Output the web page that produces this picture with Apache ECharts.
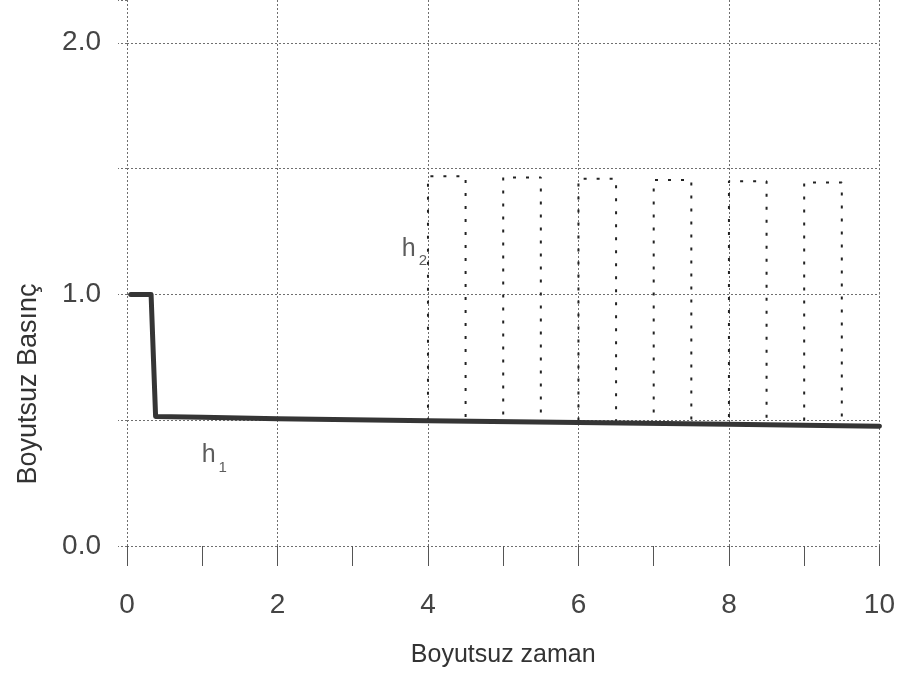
<!DOCTYPE html>
<html>
<head>
<meta charset="utf-8">
<script src="https://cdn.jsdelivr.net/npm/echarts@6/dist/echarts.min.js"></script>
<style>
  html, body { margin: 0; padding: 0; background: #fff; }
  #chart { width: 898px; height: 682px; }
</style>
</head>
<body>
<div id="chart"></div>
<script>
// Dimensionless time axis (x) and dimensionless pressure (y)
const xTickLabels = ['0', '2', '4', '6', '8', '10'];
const yTickLabels = ['0.0', '1.0', '2.0'];

// h1: pressure drops from 1.0 to about 0.5, then declines slowly
const h1X = [0.05, 0.32, 0.38, 1, 2, 4, 6, 8, 10];
const h1Y = [1.0, 1.0, 0.515, 0.512, 0.506, 0.498, 0.491, 0.484, 0.476];

// h2: pulsed pressure, switching on at each integer time from 4 to 9
const h2X = [4, 4, 4.5, 4.5, 5, 5, 5.5, 5.5, 6, 6, 6.5, 6.5,
             7, 7, 7.5, 7.5, 8, 8, 8.5, 8.5, 9, 9, 9.5, 9.5];
const h2Y = [0.498, 1.47, 1.47, 0.496, 0.494, 1.465, 1.465, 0.493, 0.491, 1.46, 1.46, 0.489,
             0.488, 1.455, 1.455, 0.486, 0.484, 1.45, 1.45, 0.482, 0.481, 1.445, 1.445, 0.478];

// Curve name labels (placed in data coordinates)
const curveLabels = [
  { name: 'h', sub: '2', x: 3.82, y: 1.18 },
  { name: 'h', sub: '1', x: 1.16, y: 0.36 }
];

const zip = (xs, ys) => xs.map((x, i) => [x, ys[i]]);
const gridColor = '#6f6f6f';
const font = 'Liberation Sans, Arial, sans-serif';

const chart = echarts.init(document.getElementById('chart'), null, { renderer: 'canvas' });
chart.setOption({
  animation: false,
  backgroundColor: '#fff',
  grid: { left: 127, right: 18, top: 0, bottom: 136 },
  xAxis: {
    type: 'value',
    min: 0, max: 10, interval: 1,
    name: 'Boyutsuz zaman',
    nameLocation: 'middle',
    nameGap: 97,
    nameTextStyle: { fontFamily: font, fontSize: 25, color: '#333' },
    axisLine: { show: false },
    axisTick: { show: true, length: 20, lineStyle: { color: '#555', width: 1 } },
    axisLabel: {
      margin: 45,
      fontFamily: font, fontSize: 28, color: '#444',
      formatter: v => (xTickLabels.includes(String(v)) ? String(v) : '')
    },
    splitLine: {
      show: true,
      lineStyle: { color: [gridColor, 'rgba(0,0,0,0)'], type: [2, 2], width: 1 }
    }
  },
  yAxis: {
    type: 'value',
    min: 0, max: 2.17, interval: 0.5,
    name: 'Boyutsuz Basınç',
    nameLocation: 'middle',
    nameRotate: 90,
    nameGap: 85,
    nameTextStyle: { fontFamily: font, fontSize: 27, color: '#333', padding: [0, 222, 0, 0] },
    axisLine: { show: false },
    axisTick: { show: true, length: 9, lineStyle: { color: gridColor, type: [2, 2] } },
    axisLabel: {
      margin: 26,
      fontFamily: font, fontSize: 28, color: '#444',
      formatter: v => {
        const s = v.toFixed(1);
        return yTickLabels.includes(s) ? s : '';
      }
    },
    splitLine: {
      show: true,
      lineStyle: {
        color: [gridColor, gridColor, gridColor, gridColor, gridColor, 'rgba(0,0,0,0)'],
        type: [2, 2], width: 1
      }
    }
  },
  series: [
    {
      name: 'h2',
      type: 'line',
      data: zip(h2X, h2Y),
      showSymbol: false,
      lineStyle: { color: '#222', width: 2, type: [3, 10] },
      z: 2
    },
    {
      name: 'h1',
      type: 'line',
      data: zip(h1X, h1Y),
      showSymbol: false,
      lineStyle: { color: '#353535', width: 5, join: 'round', cap: 'round' },
      z: 3
    },
    {
      name: 'labels',
      type: 'scatter',
      symbolSize: 0,
      data: curveLabels.map(d => ({ value: [d.x, d.y], name: d.name, sub: d.sub })),
      label: {
        show: true,
        position: 'inside',
        formatter: p => '{h|' + p.data.name + '}{s|' + p.data.sub + '}',
        rich: {
          h: { fontFamily: font, fontSize: 25, color: '#333' },
          s: { fontFamily: font, fontSize: 15, color: '#333', padding: [24, 0, 0, 3] }
        }
      },
      z: 4
    }
  ]
});
</script>
</body>
</html>
